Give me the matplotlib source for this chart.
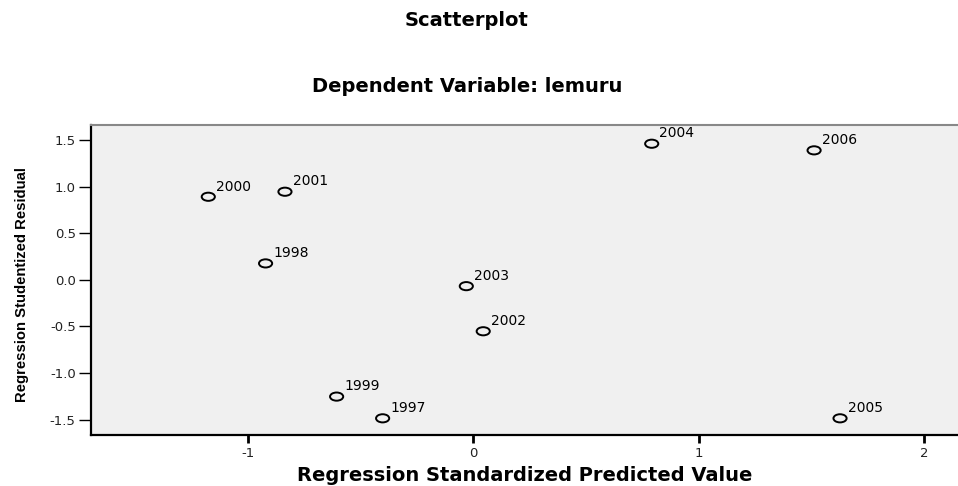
import matplotlib
matplotlib.use("Agg")
import matplotlib.pyplot as plt
from matplotlib.path import Path
from matplotlib.transforms import Affine2D

# residuals vs predicted values, one point per year
years = [1997, 1998, 1999, 2000, 2001, 2002, 2003, 2004, 2005, 2006]
predicted = [-0.402, -0.921, -0.606, -1.175, -0.835, 0.044, -0.031, 0.791, 1.626, 1.511]
residual = [-1.486, 0.176, -1.253, 0.891, 0.945, -0.552, -0.068, 1.460, -1.486, 1.389]

x_ticks = [-1, 0, 1, 2]
y_ticks = [-1.5, -1.0, -0.5, 0.0, 0.5, 1.0, 1.5]

plt.rcParams["font.family"] = ["DejaVu Sans"]

fig = plt.figure(figsize=(9.58, 4.86), dpi=100)
ax = fig.add_axes([91 / 958, 51 / 486, 1 - 91 / 958, 310 / 486])
ax.set_facecolor("#f0f0f0")

# slightly flattened open circle
oval = Path.unit_circle().transformed(Affine2D().scale(1.0, 0.62))
ax.scatter(predicted, residual, marker=oval, s=90, facecolors="none",
           edgecolors="black", linewidths=1.4, zorder=3)

for yr, px, py in zip(years, predicted, residual):
    ax.annotate(str(yr), (px, py), xytext=(5.5, 4.5), textcoords="offset points",
                ha="left", va="baseline", fontsize=10, color="black")

ax.set_xlim(-1.695, 2.149)
ax.set_ylim(-1.665, 1.661)
ax.set_xticks(x_ticks)
ax.set_xticklabels([str(t) for t in x_ticks])
ax.set_yticks(y_ticks)
ax.set_yticklabels([f"{t:.1f}" for t in y_ticks])

ax.tick_params(axis="x", length=6, width=2, pad=2.5, labelsize=9.5, labelcolor="#222222")
ax.tick_params(axis="y", length=9, width=1, pad=2, labelsize=9.5, labelcolor="#222222")

for side in ["left", "bottom"]:
    ax.spines[side].set_linewidth(1.6)
    ax.spines[side].set_color("black")
ax.spines["top"].set_color("#888888")
ax.spines["top"].set_linewidth(1.5)
ax.spines["right"].set_visible(False)

ax.set_xlabel("Regression Standardized Predicted Value", fontsize=14, fontweight="bold")
ax.xaxis.set_label_coords(0.5, -0.100)
ax.set_ylabel("Regression Studentized Residual", fontsize=10.7, fontweight="bold",
              family="Liberation Sans")
ax.yaxis.set_label_coords(-0.072, 0.484)

fig.text(467 / 958, 1 - 21 / 486, "Scatterplot", ha="center", va="center",
         fontsize=14, fontweight="bold")
fig.text(467 / 958, 1 - 87 / 486, "Dependent Variable: lemuru", ha="center", va="center",
         fontsize=14, fontweight="bold")

fig.savefig("out.png", dpi=100)
